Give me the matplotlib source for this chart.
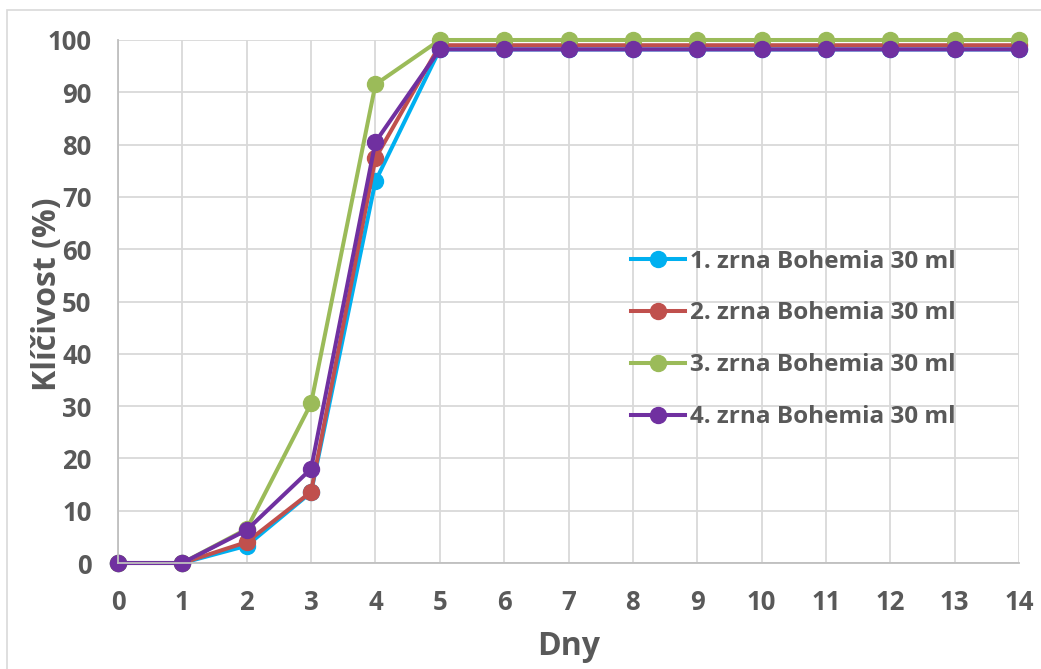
import matplotlib.pyplot as plt
from matplotlib.patches import Rectangle

# Data
days = list(range(15))
zrna1 = [0, 0, 3.3, 13.5, 73.0] + [98.2] * 10
zrna2 = [0, 0, 4.0, 13.6, 77.4] + [99.0] * 10
zrna3 = [0, 0, 6.5, 30.5, 91.5] + [100.0] * 10
zrna4 = [0, 0, 6.3, 18.0, 80.5] + [98.2] * 10

labels = ["1. zrna Bohemia 30 ml", "2. zrna Bohemia 30 ml",
          "3. zrna Bohemia 30 ml", "4. zrna Bohemia 30 ml"]
colors = ["#00b0f0", "#c0504d", "#9bbb59", "#7030a0"]

plt.rcParams['font.family'] = ['Open Sans', 'DejaVu Sans']
text_color = "#595959"

fig = plt.figure(figsize=(10.41, 6.69), dpi=100)
ax = fig.add_axes([118 / 1041, 1 - 563 / 669, (1019 - 118) / 1041, (563 - 40) / 669])

# light frame around the chart area
fig.patches.append(Rectangle((7 / 1041, -0.01), 1.1, 1 - 10 / 669 + 0.01,
                             transform=fig.transFigure, fill=False,
                             edgecolor="#d9d9d9", linewidth=1.2))

for ys, lab, col in zip([zrna1, zrna2, zrna3, zrna4], labels, colors):
    ax.plot(days, ys, color=col, linewidth=2.9, marker='o', markersize=11.5,
            label=lab, clip_on=False)

ax.set_xlim(0, 14)
ax.set_ylim(0, 100)
ax.set_xticks(range(0, 15))
ax.set_yticks(range(0, 101, 10))
ax.grid(True, color="#d9d9d9", linewidth=1.3)
ax.set_axisbelow(True)
for side in ['top', 'right']:
    ax.spines[side].set_visible(False)
for side in ['left', 'bottom']:
    ax.spines[side].set_color("#bfbfbf")
    ax.spines[side].set_linewidth(1.3)
ax.tick_params(length=0, labelsize=18.5, labelcolor=text_color)
ax.tick_params(axis='y', pad=19)
ax.tick_params(axis='x', pad=19)
for t in ax.get_xticklabels() + ax.get_yticklabels():
    t.set_fontweight('bold')

ax.set_xlabel("Dny", fontsize=23, fontweight='bold', color=text_color, labelpad=10)
ax.set_ylabel("Klíčivost (%)", fontsize=23, fontweight='bold', color=text_color)
ax.yaxis.set_label_coords(-0.060, 0.513)

leg = ax.legend(loc='upper left', bbox_to_anchor=(0.559, 0.618), frameon=False,
                fontsize=17.5, labelspacing=1.15, handlelength=2.22, handletextpad=0.2,
                borderaxespad=0)
for t in leg.get_texts():
    t.set_color(text_color)
    t.set_fontweight('bold')

fig.savefig("out.png", dpi=100)
